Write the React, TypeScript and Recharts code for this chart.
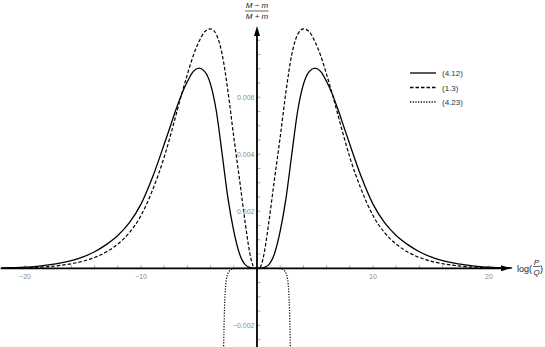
import React from "react";
import {
  LineChart,
  Line,
  XAxis,
  YAxis,
  ReferenceLine,
  ReferenceDot,
  Legend,
} from "recharts";

// x values (log(P/Q)) shared by the two smooth curves
const xGrid = [
  -22, -20, -19, -18, -17, -16, -15, -14, -13, -12, -11, -10, -9, -8, -7.5, -7,
  -6.5, -6, -5.5, -5, -4.5, -4, -3.5, -3, -2.5, -2, -1.5, -1, -0.75, -0.5, -0.25,
  0, 0.25, 0.5, 0.75, 1, 1.5, 2, 2.5, 3, 3.5, 4, 4.5, 5, 5.5, 6, 6.5, 7, 7.5, 8,
  9, 10, 11, 12, 13, 14, 15, 16, 17, 18, 19, 20, 22,
];

// (4.12) – solid
const ySolid = [
  0.000015, 0.00004, 0.00007, 0.00012, 0.00018, 0.00027, 0.0004, 0.00058,
  0.00083, 0.00115, 0.0016, 0.00225, 0.0032, 0.00435, 0.00495, 0.00555, 0.0061,
  0.00655, 0.0069, 0.00702, 0.0069, 0.00645, 0.0055, 0.004, 0.00245, 0.0013,
  0.0005, 0.00012, 0.00005, 0.000015, 0.000002, 0, 0.000002, 0.000015, 0.00005,
  0.00012, 0.0005, 0.0013, 0.00245, 0.004, 0.0055, 0.00645, 0.0069, 0.00702,
  0.0069, 0.00655, 0.0061, 0.00555, 0.00495, 0.00435, 0.0032, 0.00225, 0.0016,
  0.00115, 0.00083, 0.00058, 0.0004, 0.00027, 0.00018, 0.00012, 0.00007,
  0.00004, 0.000015,
];

// (1.3) – dashed
const yDashed = [
  0.000007, 0.00002, 0.000035, 0.00006, 0.0001, 0.00016, 0.00025, 0.00038,
  0.00057, 0.00085, 0.00125, 0.00185, 0.00275, 0.0039, 0.0046, 0.00535, 0.0061,
  0.0068, 0.00745, 0.00795, 0.0083, 0.0084, 0.0082, 0.0075, 0.0062, 0.0046,
  0.0031, 0.00155, 0.00085, 0.0003, 0.00003, 0, 0.00003, 0.0003, 0.00085,
  0.00155, 0.0031, 0.0046, 0.0062, 0.0075, 0.0082, 0.0084, 0.0083, 0.00795,
  0.00745, 0.0068, 0.0061, 0.00535, 0.0046, 0.0039, 0.00275, 0.00185, 0.00125,
  0.00085, 0.00057, 0.00038, 0.00025, 0.00016, 0.0001, 0.00006, 0.000035,
  0.00002, 0.000007,
];

// (4.23) – dotted, only near the origin
const xDotted = [
  -3, -2.9, -2.85, -2.8, -2.75, -2.7, -2.6, -2.4, -2.2, -2, -1.5, -1, -0.5, 0,
  0.5, 1, 1.5, 2, 2.2, 2.4, 2.6, 2.7, 2.75, 2.8, 2.85, 2.9, 3,
];
const yDotted = [
  -0.007, -0.0034, -0.0022, -0.0014, -0.0009, -0.0006, -0.0003, -0.0001,
  -0.00003, -0.00001, 0, 0, 0, 0, 0, 0, 0, -0.00001, -0.00003, -0.0001,
  -0.0003, -0.0006, -0.0009, -0.0014, -0.0022, -0.0034, -0.007,
];

const seriesNames = ["(4.12)", "(1.3)", "(4.23)"];
const seriesDash = ["", "3.5 2", "1.2 1.5"];

const xTicks = [
  -20, -18, -16, -14, -12, -10, -8, -6, -4, -2, 2, 4, 6, 8, 10, 12, 14, 16,
  18, 20,
];
const xTickLabels = [-20, -10, 10, 20];
const yTicks = [
  -0.0025, -0.002, -0.0015, -0.001, -0.0005, 0.0005, 0.001, 0.0015, 0.002,
  0.0025, 0.003, 0.0035, 0.004, 0.0045, 0.005, 0.0055, 0.006, 0.0065, 0.007,
  0.0075, 0.008,
];
const yTickLabels = [-0.002, 0.002, 0.004, 0.006];

const solidData = xGrid.map((x, i) => ({ x, y: ySolid[i] }));
const dashedData = xGrid.map((x, i) => ({ x, y: yDashed[i] }));
const dottedData = xDotted.map((x, i) => ({ x, y: yDotted[i] }));

const X_DOMAIN: [number, number] = [-22.155, 24.83];
const Y_DOMAIN: [number, number] = [-0.00276, 0.00941];

const fmtX = (v: number) => (v < 0 ? "\u2212" + Math.abs(v) : String(v));
const fmtY = (v: number) =>
  v < 0 ? "\u2212" + Math.abs(v).toFixed(3) : v.toFixed(3);

// arrowheads drawn at the tip of each axis
const ArrowRight = (p: any) => (
  <polygon points={`${p.cx},${p.cy} ${p.cx - 10},${p.cy - 3} ${p.cx - 10},${p.cy + 3}`} fill="#000" />
);
const ArrowUp = (p: any) => (
  <polygon points={`${p.cx},${p.cy} ${p.cx - 3},${p.cy + 10} ${p.cx + 3},${p.cy + 10}`} fill="#000" />
);
const NoDot = () => <g />;

const tickFont = { fontFamily: "Liberation Sans, Arial, sans-serif", fontSize: 7, fill: "#8c8c8c" };

const LegendBox = () => (
  <svg width={90} height={45}>
    {seriesNames.map((name, i) => (
      <g key={name} transform={`translate(0, ${7 + i * 14.5})`}>
        <line x1={0} y1={0} x2={26} y2={0} stroke="#000" strokeWidth={1.3} strokeDasharray={seriesDash[i] || undefined} />
        <text x={32} y={3} fontFamily="Liberation Sans, Arial, sans-serif" fontSize={8} fill="#333">
          {name}
        </text>
      </g>
    ))}
  </svg>
);

const App: React.FC = () => {
  return (
    <div style={{ position: "absolute", left: 0, top: 0, width: 545, height: 347, background: "#fff" }}>
      <style>{"body{margin:0}"}</style>
      <LineChart width={545} height={347} margin={{ top: 0, right: 0, bottom: 0, left: 0 }}>
        <XAxis type="number" dataKey="x" domain={X_DOMAIN} allowDataOverflow hide />
        <YAxis type="number" domain={Y_DOMAIN} allowDataOverflow hide />

        {xTicks.map((t) => (
          <ReferenceLine key={"xt" + t} segment={[{ x: t, y: 0 }, { x: t, y: 0.00011 }]} stroke="#999" strokeWidth={0.8} ifOverflow="visible" />
        ))}
        {yTicks.map((t) => (
          <ReferenceLine key={"yt" + t} segment={[{ x: 0, y: t }, { x: 0.3, y: t }]} stroke="#999" strokeWidth={0.8} ifOverflow="visible" />
        ))}

        <Line data={solidData} type="monotone" dataKey="y" name={seriesNames[0]} stroke="#000" strokeWidth={1.3} dot={false} activeDot={false} isAnimationActive={false} />
        <Line data={dashedData} type="monotone" dataKey="y" name={seriesNames[1]} stroke="#000" strokeWidth={1.2} strokeDasharray={seriesDash[1]} dot={false} activeDot={false} isAnimationActive={false} />
        <Line data={dottedData} type="monotone" dataKey="y" name={seriesNames[2]} stroke="#000" strokeWidth={1.2} strokeDasharray={seriesDash[2]} dot={false} activeDot={false} isAnimationActive={false} />

        <ReferenceLine segment={[{ x: -22.1, y: 0 }, { x: 21.2, y: 0 }]} stroke="#000" strokeWidth={1.8} ifOverflow="visible" />
        <ReferenceLine segment={[{ x: 0, y: -0.00276 }, { x: 0, y: 0.0082 }]} stroke="#000" strokeWidth={1.8} ifOverflow="visible" />
        <ReferenceDot x={21.9} y={0} r={3} shape={ArrowRight} ifOverflow="visible" />
        <ReferenceDot x={0} y={0.0085} r={3} shape={ArrowUp} ifOverflow="visible" />

        {xTickLabels.map((t) => (
          <ReferenceDot
            key={"xl" + t}
            x={t}
            y={0}
            r={1}
            shape={NoDot}
            ifOverflow="visible"
            label={(p: any) => (
              <text x={p.viewBox.x + 1} y={p.viewBox.y + 12} textAnchor="middle" {...tickFont}>
                {fmtX(t)}
              </text>
            )}
          />
        ))}
        {yTickLabels.map((t) => (
          <ReferenceDot
            key={"yl" + t}
            x={0}
            y={t}
            r={1}
            shape={NoDot}
            ifOverflow="visible"
            label={(p: any) => (
              <text x={p.viewBox.x - 1.5} y={p.viewBox.y + 3.5} textAnchor="end" {...tickFont}>
                {fmtY(t)}
              </text>
            )}
          />
        ))}

        <Legend
          layout="vertical"
          align="center"
          verticalAlign="middle"
          content={() => <LegendBox />}
          wrapperStyle={{ position: "absolute", left: 410, top: 66, width: 90, height: 45 }}
        />
      </LineChart>

      <svg width={545} height={347} style={{ position: "absolute", left: 0, top: 0, pointerEvents: "none" }}>
        <g fontFamily="Liberation Sans, Arial, sans-serif" fill="#222">
          <text x={257} y={7.5} fontSize={8} fontStyle="italic" textAnchor="middle">
            M − m
          </text>
          <line x1={245} y1={11} x2={268.5} y2={11} stroke="#222" strokeWidth={0.7} />
          <text x={257} y={19} fontSize={8} fontStyle="italic" textAnchor="middle">
            M + m
          </text>

          <text x={517} y={271.5} fontSize={9}>log(</text>
          <text x={536.5} y={264.5} fontSize={8} fontStyle="italic" textAnchor="middle">P</text>
          <line x1={533} y1={266.5} x2={540} y2={266.5} stroke="#222" strokeWidth={0.7} />
          <text x={536.5} y={274.5} fontSize={8} fontStyle="italic" textAnchor="middle">Q</text>
          <text x={540} y={271.5} fontSize={9}>)</text>
        </g>
      </svg>
    </div>
  );
};

export default App;
